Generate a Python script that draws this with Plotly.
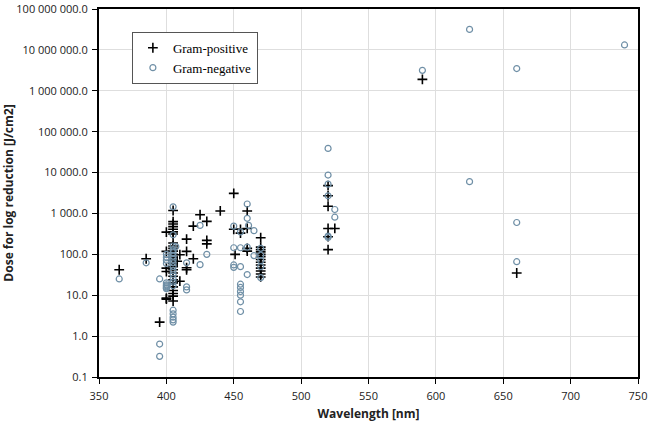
import plotly.graph_objects as go

# Gram-positive (+)
pos_wl = [365, 385, 395, 400, 400, 400, 400, 400, 400,
          405, 405, 405, 405, 405, 405, 405, 405, 405, 405, 405, 405, 405, 405, 405, 405, 405, 405, 405, 405, 405, 405, 405, 405, 405, 405,
          408, 410, 410, 415, 415, 415, 415, 420, 420, 425, 430, 430, 430, 440,
          450, 450, 451, 455, 455, 460, 460, 460, 460,
          470, 470, 470, 470, 470, 470, 470, 470, 470, 470, 470, 470, 470,
          520, 520, 520, 520, 525, 520, 520, 590, 660]
pos_dose = [42, 78, 2.2, 350, 118, 46, 38, 8.5, 8.0,
            1180, 630, 550, 475, 410, 355, 315, 190, 160, 140, 120, 100, 85, 72, 60, 50, 42, 35, 29, 24, 20, 16, 13, 11, 9.5, 7.2,
            68, 98, 22, 235, 118, 47, 42, 490, 78, 930, 640, 220, 180, 1150,
            3100, 410, 100, 410, 330, 1150, 430, 140, 120,
            255, 150, 130, 115, 100, 88, 75, 64, 55, 46, 39, 33, 28,
            4800, 2700, 1500, 430, 430, 270, 130, 1900000, 35]

# Gram-negative (o)
neg_wl = [365, 385, 395, 395, 395, 400, 400, 400, 400, 400, 400, 400, 400, 400, 400,
          405, 405, 405, 405, 405, 405, 405, 405, 405, 405, 405, 405, 405, 405, 405, 405, 405, 405, 405,
          407, 415, 415, 415, 425, 425, 430,
          450, 450, 450, 450, 455, 455, 455, 455, 455, 455, 455, 455, 455,
          460, 460, 460, 460, 461, 465, 465, 470, 470, 470, 470, 470,
          520, 520, 520, 520, 525, 525, 520, 520, 590, 625, 625, 660, 660, 660, 740]
neg_dose = [25, 62, 25, 0.64, 0.32, 100, 85, 72, 60, 20, 18, 17, 16, 15, 14.5,
            1450, 300, 160, 130, 110, 90, 75, 62, 50, 40, 32, 26, 21, 17, 4.3, 3.5, 2.9, 2.5, 2.2,
            155, 62, 16, 13.5, 510, 56, 100,
            490, 145, 55, 48, 355, 145, 50, 18.6, 15.5, 12.3, 10, 6.9, 4.0,
            1700, 760, 150, 32, 510, 380, 93, 140, 95, 70, 50, 27,
            39000, 8700, 5200, 2700, 1250, 810, 280, 260, 3160000, 31700000, 6000, 3500000, 600, 66, 13200000]

y_tickvals = [0.1, 1, 10, 100, 1000, 10000, 100000, 1000000, 10000000, 100000000]
y_ticktext = ["0.1", "1.0", "10.0", "100.0", "1 000.0", "10 000.0", "100 000.0",
              "1 000 000.0", "10 000 000.0", "100 000 000.0"]
x_tickvals = [350, 400, 450, 500, 550, 600, 650, 700, 750]

fig = go.Figure()
fig.add_trace(go.Scatter(
    x=pos_wl, y=pos_dose, mode="markers", name="Gram-positive",
    marker=dict(symbol="cross-thin", size=7, color="black",
                line=dict(color="black", width=1.6))))
fig.add_trace(go.Scatter(
    x=neg_wl, y=neg_dose, mode="markers", name="Gram-negative",
    marker=dict(symbol="circle-open", size=6, color="#6f8fa6",
                line=dict(color="#6f8fa6", width=1.2))))

fig.update_layout(
    width=650, height=424,
    margin=dict(l=99, r=12, t=9, b=47),
    paper_bgcolor="white", plot_bgcolor="white",
    font=dict(family="Open Sans, sans-serif", size=11, color="#222"),
    showlegend=True,
    legend=dict(x=0.061, y=0.938, xanchor="left", yanchor="top",
                bgcolor="white", bordercolor="#555", borderwidth=1,
                font=dict(family="Liberation Serif, serif", size=13, color="black"),
                itemwidth=30, tracegroupgap=0),
)
fig.update_xaxes(
    range=[350, 750], tickvals=x_tickvals, automargin=False,
    showgrid=True, gridcolor="#dedede", gridwidth=1,
    showline=True, linecolor="black", linewidth=2, mirror=True,
    ticks="outside", ticklen=5, tickcolor="black",
    tickfont=dict(size=11), ticklabelstandoff=3,
    title=dict(text="<b>Wavelength [nm]</b>", font=dict(size=12), standoff=7),
    zeroline=False)
fig.update_yaxes(
    type="log", range=[-1, 8], tickvals=y_tickvals, ticktext=y_ticktext,
    automargin=False,
    showgrid=True, gridcolor="#dedede", gridwidth=1,
    showline=True, linecolor="black", linewidth=2, mirror=True,
    ticks="outside", ticklen=5, tickcolor="black",
    tickfont=dict(size=11), ticklabelstandoff=2,
    title=dict(text="<b>Dose for log reduction [J/cm2]</b>", font=dict(size=12), standoff=4),
    zeroline=False)

fig.write_html("out.html", config={"displayModeBar": False},
               post_script="document.body.style.margin='0';")
